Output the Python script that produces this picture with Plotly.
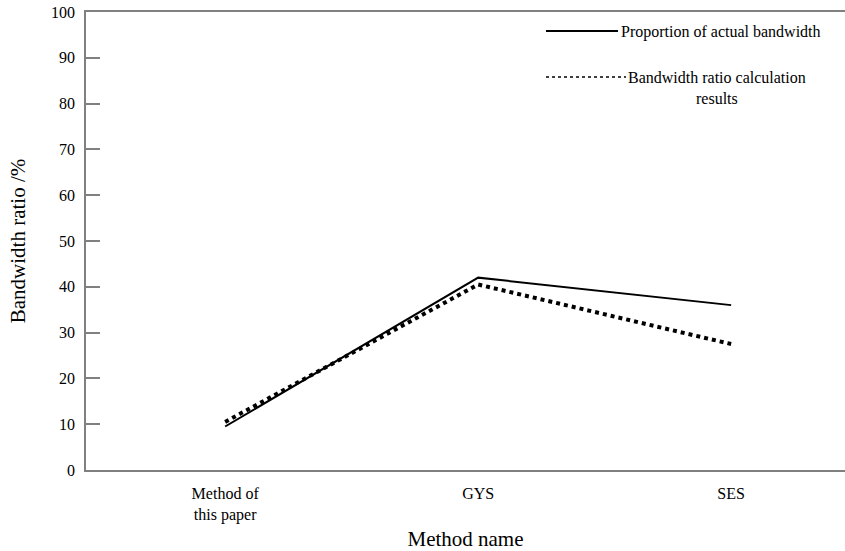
import plotly.graph_objects as go

methods = ["Method of<br>this paper", "GYS", "SES"]
actual_ratio = [9.5, 42.0, 36.0]
calc_ratio = [10.5, 40.5, 27.5]
y_ticks = [0, 10, 20, 30, 40, 50, 60, 70, 80, 90, 100]

FONT = "Liberation Serif"
L, T, B, R = 86, 12, 81, 0
W, H = 845, 551
PW, PH = W - L - R, H - T - B


def px(x):
    return (x - L) / PW


def py(y):
    return (H - B - y) / PH


fig = go.Figure()
fig.add_trace(go.Scatter(
    x=[0, 1, 2], y=actual_ratio, mode="lines",
    line=dict(color="black", width=2), name="Proportion of actual bandwidth",
    showlegend=False))
fig.add_trace(go.Scatter(
    x=[0, 1, 2], y=calc_ratio, mode="lines",
    line=dict(color="black", width=4, dash="dot"),
    name="Bandwidth ratio calculation results", showlegend=False))

# custom legend
fig.add_shape(type="line", xref="paper", yref="paper",
              x0=px(546), x1=px(618), y0=py(31), y1=py(31),
              line=dict(color="black", width=2))
fig.add_shape(type="line", xref="paper", yref="paper",
              x0=px(546), x1=px(626), y0=py(77), y1=py(77),
              line=dict(color="black", width=1.5, dash="dot"))
fig.add_annotation(xref="paper", yref="paper", x=px(619), y=py(32),
                   xanchor="left", yanchor="middle",
                   text="Proportion of actual bandwidth", showarrow=False,
                   font=dict(family=FONT, size=16, color="black"))
fig.add_annotation(xref="paper", yref="paper", x=px(626), y=py(88),
                   xanchor="left", yanchor="middle",
                   text="Bandwidth ratio calculation<br>results", showarrow=False,
                   align="center",
                   font=dict(family=FONT, size=16, color="black"))

fig.update_layout(
    width=W, height=H,
    margin=dict(l=L, r=R, t=T, b=B),
    paper_bgcolor="white", plot_bgcolor="white",
    font=dict(family=FONT, size=16, color="black"),
    xaxis=dict(
        tickmode="array", tickvals=[0, 1, 2], ticktext=methods,
        range=[-0.55, 2.45], showgrid=False, zeroline=False,
        showline=True, linecolor="#808080", linewidth=1.5, mirror=True,
        ticks="", automargin=False, ticklabelstandoff=8,
        tickfont=dict(family=FONT, size=16, color="black"),
        title=dict(text="Method name", font=dict(family=FONT, size=21, color="black"),
                   standoff=12),
    ),
    yaxis=dict(
        range=[0, 100], tickvals=y_ticks, showgrid=False, zeroline=False,
        showline=True, linecolor="#808080", linewidth=1.5, automargin=False,
        ticks="inside", ticklen=14, tickcolor="#808080", tickwidth=1.5,
        ticklabelstandoff=6,
        tickfont=dict(family=FONT, size=16, color="black"),
        title=dict(text="Bandwidth ratio /%", font=dict(family=FONT, size=21, color="black"),
                   standoff=20),
    ),
)

fig.write_html("out.html", config={"displayModeBar": False},
               post_script="document.body.style.margin='0px';")
